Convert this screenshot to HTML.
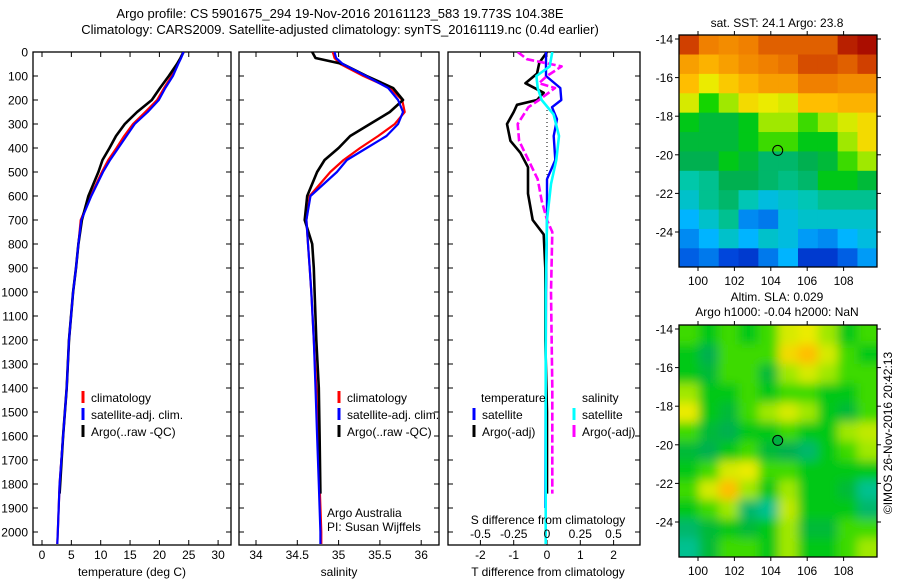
<!DOCTYPE html>
<html><head><meta charset="utf-8"><style>
html,body{margin:0;padding:0;background:#fff;}
svg{display:block;font-family:"Liberation Sans",sans-serif;}
</style></head><body>
<svg id="fig" width="900" height="580" viewBox="0 0 900 580" xmlns="http://www.w3.org/2000/svg">
<defs>
<clipPath id="c1"><rect x="33" y="52" width="198" height="493"/></clipPath>
<clipPath id="c2"><rect x="239" y="52" width="200" height="493"/></clipPath>
<clipPath id="c3"><rect x="448" y="52" width="192" height="493"/></clipPath>
<clipPath id="cm1"><rect x="679" y="35" width="198" height="232"/></clipPath>
<clipPath id="cm2"><rect x="679" y="325" width="198" height="232"/></clipPath>
<filter id="blur" x="-5%" y="-5%" width="110%" height="110%"><feGaussianBlur stdDeviation="5"/></filter>
</defs>
<text x="340" y="18" font-size="13" text-anchor="middle">Argo profile: CS 5901675_294 19-Nov-2016 20161123_583 19.773S 104.38E</text>
<text x="340" y="34" font-size="13" text-anchor="middle">Climatology: CARS2009. Satellite-adjusted climatology: synTS_20161119.nc (0.4d earlier)</text>
<g id="root"></g>
</svg>
<script>
// ---- profile data ----
const depths = [0,25,50,100,150,200,250,300,350,400,450,500,600,700,800,900,1000,1200,1400,1600,1800,2000,2050];
const climT = [24.1,23.6,23.0,22.1,20.8,19.6,17.6,15.5,14.0,12.7,11.3,10.2,8.3,6.6,6.2,5.8,5.3,4.6,4.2,3.6,3.0,2.7,2.6];
const satT  = [24.1,23.7,23.2,22.3,21.0,19.9,18.0,15.8,14.4,13.0,11.6,10.4,8.4,6.7,6.2,5.8,5.3,4.6,4.2,3.6,3.0,2.7,2.6];
const climS = [34.93,34.95,35.02,35.30,35.62,35.77,35.80,35.68,35.48,35.26,35.06,34.90,34.65,34.61,34.63,34.65,34.67,34.70,34.73,34.75,34.77,34.79,34.79];
const satS  = [34.95,34.97,35.05,35.33,35.60,35.72,35.78,35.72,35.58,35.34,35.10,34.98,34.66,34.61,34.63,34.65,34.67,34.70,34.72,34.74,34.76,34.78,34.78];
const argoDepths = [0,25,50,100,150,200,250,300,350,400,450,500,600,700,800,900,1000,1200,1400,1600,1840];
const argoT = [24.1,23.6,23.0,21.6,20.1,18.7,16.2,14.1,12.6,11.5,10.3,9.6,7.9,6.8,6.2,5.8,5.3,4.6,4.2,3.6,3.0];
const argoS = [34.68,34.72,35.05,35.34,35.66,35.78,35.62,35.38,35.14,35.00,34.83,34.74,34.62,34.59,34.68,34.70,34.71,34.73,34.76,34.77,34.78];
// differences
const dArgoTDepths = [0,45,90,130,170,200,220,250,300,370,420,480,590,700,760,900,1200,1500,1840];
const dArgoT = [0,-0.23,-0.3,-0.65,-0.1,-0.3,-0.9,-1.0,-1.2,-1.1,-0.8,-0.57,-0.57,-0.43,-0.1,-0.05,-0.05,0,0];
const dSatTDepths = [0,50,100,150,200,230,280,350,450,530,700,1000,1900];
const dSatT = [-0.03,-0.03,-0.03,0.4,0.43,0.15,0.3,0.2,0.25,0,0,-0.03,-0.05];
const dArgoSDepths = [0,30,60,100,130,150,200,230,300,370,450,530,620,700,750,1000,1400,1840];
const dArgoS = [-0.22,-0.15,0.11,0,-0.06,0.06,-0.06,-0.14,-0.22,-0.21,-0.14,-0.07,-0.04,0,0.04,0.03,0.04,0.04];
const dSatSDepths = [0,60,100,150,200,260,350,450,550,700,1000,1500,2050];
const dSatS = [0.04,0.02,-0.08,-0.07,-0.04,0.05,0.09,0.07,0.03,0,-0.01,-0.01,-0.01];
// tick labels
const depthTicks = [0,100,200,300,400,500,600,700,800,900,1000,1100,1200,1300,1400,1500,1600,1700,1800,1900,2000];
const tempTicks = [0,5,10,15,20,25,30];
const salTicks = [34,34.5,35,35.5,36];
const dTTicks = [-2,-1,0,1,2];
const dSTicks = [-0.5,-0.25,0,0.25,0.5];
const lonTicks = [100,102,104,106,108];
const latTicks = [-14,-16,-18,-20,-22,-24];
// maps (colour index 0..1), rows north->south, cols west->east
const sstGrid = [
[0.9,0.8,0.78,0.8,0.85,0.85,0.85,0.85,0.95,0.98],
[0.75,0.72,0.75,0.78,0.8,0.82,0.88,0.88,0.85,0.9],
[0.7,0.62,0.68,0.72,0.75,0.75,0.8,0.8,0.78,0.78],
[0.6,0.48,0.55,0.65,0.62,0.6,0.7,0.7,0.72,0.72],
[0.45,0.42,0.42,0.45,0.55,0.55,0.5,0.55,0.6,0.65],
[0.42,0.42,0.42,0.45,0.5,0.5,0.45,0.45,0.55,0.65],
[0.4,0.4,0.45,0.42,0.38,0.38,0.4,0.42,0.5,0.55],
[0.33,0.35,0.4,0.4,0.38,0.36,0.38,0.45,0.45,0.42],
[0.3,0.35,0.38,0.32,0.28,0.3,0.32,0.35,0.35,0.35],
[0.25,0.3,0.35,0.2,0.18,0.28,0.3,0.3,0.3,0.3],
[0.2,0.25,0.3,0.25,0.3,0.28,0.22,0.2,0.25,0.28],
[0.15,0.18,0.12,0.1,0.18,0.25,0.1,0.1,0.15,0.22]];
const slaGrid = [
[0.5,0.45,0.5,0.45,0.5,0.6,0.62,0.55,0.45,0.5],
[0.45,0.4,0.5,0.5,0.5,0.65,0.7,0.6,0.5,0.45],
[0.45,0.42,0.5,0.5,0.42,0.55,0.6,0.55,0.5,0.5],
[0.55,0.45,0.45,0.5,0.45,0.5,0.5,0.45,0.45,0.5],
[0.62,0.45,0.42,0.5,0.55,0.6,0.55,0.45,0.42,0.5],
[0.5,0.42,0.4,0.45,0.45,0.5,0.45,0.45,0.55,0.58],
[0.42,0.4,0.45,0.5,0.42,0.4,0.38,0.45,0.5,0.55],
[0.45,0.5,0.6,0.62,0.5,0.5,0.45,0.45,0.45,0.45],
[0.5,0.6,0.7,0.55,0.45,0.55,0.45,0.45,0.42,0.35],
[0.45,0.5,0.55,0.38,0.35,0.58,0.45,0.45,0.45,0.38],
[0.38,0.42,0.45,0.42,0.45,0.55,0.42,0.42,0.5,0.5],
[0.35,0.42,0.5,0.5,0.45,0.55,0.45,0.45,0.5,0.55]];
const argoLon = 104.38, argoLat = -19.773;

const NS='http://www.w3.org/2000/svg';
const root=document.getElementById('root');
function el(tag,attrs,parent){const e=document.createElementNS(NS,tag);for(const k in attrs)e.setAttribute(k,attrs[k]);(parent||root).appendChild(e);return e;}
function txt(s,x,y,attrs,parent){const t=el('text',Object.assign({x:x,y:y,'font-size':12},attrs||{}),parent);t.textContent=s;return t;}

const yD=d=>52+d*0.24;
const xT=t=>42+t*5.87;
const xS=s=>256+(s-34)*82.6;
const xdT=v=>547+v*33.3;
const xdS=v=>547+v*133;
const xLon=l=>698+(l-100)*18.2;
const yLat1=l=>39+(-14-l)*19.3;
const yLat2=l=>329+(-14-l)*19.3;

function panel(name,x0,x1,xs,xTicks,xLabels){
  const g=el('g',{});
  
  
  el('rect',{x:x0,y:52,width:x1-x0,height:493,fill:'none',stroke:'#000','stroke-width':1.3},g);
  depthTicks.forEach(d=>{const y=yD(d);
    el('line',{x1:x0,x2:x0+5,y1:y,y2:y,stroke:'#000'},g);
    el('line',{x1:x1-5,x2:x1,y1:y,y2:y,stroke:'#000'},g);});
  xTicks.forEach(v=>{const x=xs(v);
    el('line',{x1:x,x2:x,y1:545,y2:540,stroke:'#000'},g);
    el('line',{x1:x,x2:x,y1:52,y2:57,stroke:'#000'},g);
    if(xLabels){const t=txt(String(v),x,559,{'text-anchor':'middle'},g);
      
      }
  });
  return g;
}
function line(name,ds,vs,xs,color,w,clip,dash){
  const pts=ds.map((d,i)=>xs(vs[i]).toFixed(1)+','+yD(d).toFixed(1)).join(' ');
  const p=el('polyline',{points:pts,fill:'none',stroke:color,'stroke-width':w,'clip-path':'url(#'+clip+')','stroke-linejoin':'round'});
  if(dash)p.setAttribute('stroke-dasharray',dash);
  
  
}
function legendEntry(name,x,y,color,label,dash){
  const g=el('g',{});
  
  
  el('line',{x1:x,x2:x,y1:y-11,y2:y+1,stroke:color,'stroke-width':3,'stroke-dasharray':dash||'none'},g);
  txt(label,x+8,y,{},g);
}

// Panel 1 temperature
panel('temperature-panel',33,231,xT,tempTicks,true);
depthTicks.forEach(d=>{const t=txt(String(d),28,yD(d)+4.5,{'text-anchor':'end'});
  
  });
line('temp-climatology-line',depths,climT,xT,'#f00',2.2,'c1');
line('temp-argo-line',argoDepths,argoT,xT,'#000',2.6,'c1');
line('temp-satellite-line',depths,satT,xT,'#00f',2.2,'c1');
let t=txt('temperature (deg C)',132,576,{'text-anchor':'middle'});

legendEntry('legend-climatology',83,402,'#f00','climatology');
legendEntry('legend-satellite-adj',83,419,'#00f','satellite-adj. clim.');
legendEntry('legend-argo',83,436,'#000','Argo(..raw -QC)');

// Panel 2 salinity
panel('salinity-panel',239,439,xS,salTicks,true);
line('sal-climatology-line',depths,climS,xS,'#f00',2.2,'c2');
line('sal-argo-line',argoDepths,argoS,xS,'#000',2.6,'c2');
line('sal-satellite-line',depths,satS,xS,'#00f',2.2,'c2');
t=txt('salinity',339,576,{'text-anchor':'middle'});

legendEntry('legend-climatology-2',339,402,'#f00','climatology');
legendEntry('legend-satellite-adj-2',339,419,'#00f','satellite-adj. clim.');
legendEntry('legend-argo-2',339,436,'#000','Argo(..raw -QC)');
t=txt('Argo Australia',327,517,{});
t=txt('PI: Susan Wijffels',327,531,{});

// Panel 3 differences
panel('difference-panel',448,640,xdT,dTTicks,true);
el('line',{x1:547,x2:547,y1:110,y2:232,stroke:'#000','stroke-dasharray':'1,3'});
line('diff-argo-t-line',dArgoTDepths,dArgoT,xdT,'#000',2.6,'c3');
line('diff-sat-t-line',dSatTDepths,dSatT,xdT,'#00f',2.4,'c3');
line('diff-argo-s-line',dArgoSDepths,dArgoS,xdS,'#f0f',2.6,'c3','8,3');
line('diff-sat-s-line',dSatSDepths,dSatS,xdS,'#0ff',2.6,'c3');
dSTicks.forEach(v=>{const t=txt(String(v),xdS(v),538,{'text-anchor':'middle'});
  });
t=txt('S difference from climatology',548,524,{'text-anchor':'middle'});

t=txt('T difference from climatology',548,576,{'text-anchor':'middle'});

t=txt('temperature',481,402,{});
t=txt('salinity',582,402,{});
legendEntry('legend-t-satellite',474,419,'#00f','satellite');
legendEntry('legend-t-argo',474,436,'#000','Argo(-adj)');
legendEntry('legend-s-satellite',574,419,'#0ff','satellite');
legendEntry('legend-s-argo',574,436,'#f0f','Argo(-adj)');

// colormap
const stops=[[0,[0,0,140]],[0.12,[0,70,220]],[0.25,[0,180,255]],[0.33,[0,200,170]],[0.4,[0,176,80]],[0.47,[0,210,0]],[0.55,[160,232,0]],[0.62,[235,235,0]],[0.7,[255,190,0]],[0.8,[240,128,0]],[0.9,[208,64,0]],[1,[160,0,0]]];
function cmap(v){for(let i=1;i<stops.length;i++){if(v<=stops[i][0]){const a=stops[i-1],b=stops[i],f=(v-a[0])/(b[0]-a[0]);
  const c=a[1].map((x,k)=>Math.round(x+(b[1][k]-x)*f));return 'rgb('+c.join(',')+')';}}return 'rgb(160,0,0)';}

function map(name,grid,yLat,top,clip,blur,title1,title2,circleFill){
  const g=el('g',{});
  
  
  const lon0=98.96,lon1=109.85,lat0=-13.8,lat1=-25.85;
  const rows=grid.length,cols=grid[0].length;
  const cg=el('g',{'clip-path':'url(#'+clip+')'},g);
  const ig=el('g',blur?{filter:'url(#blur)'}:{},cg);
  grid.forEach((row,r)=>row.forEach((v,c)=>{
    const la=lat0+(lat1-lat0)*r/rows, lb=lat0+(lat1-lat0)*(r+1)/rows;
    const loa=lon0+(lon1-lon0)*c/cols, lob=lon0+(lon1-lon0)*(c+1)/cols;
    const pad=blur?12:0;
    const x=xLon(loa)-(c===0?pad:0), x2=xLon(lob)+(c===cols-1?pad:0);
    const y=yLat(la)-(r===0?pad:0), y2=yLat(lb)+(r===rows-1?pad:0);
    const cell=el('rect',{x:x,y:y,width:x2-x+0.6,height:y2-y+0.6,fill:cmap(v)},ig);
    
    
  }));
  el('rect',{x:679,y:top,width:198,height:232,fill:'none',stroke:'#000','stroke-width':1.3},g);
  lonTicks.forEach(l=>{const x=xLon(l);
    el('line',{x1:x,x2:x,y1:top,y2:top-4,stroke:'#000'},g);
    el('line',{x1:x,x2:x,y1:top+232,y2:top+236,stroke:'#000'},g);
    const tt=txt(String(l),x,top+250,{'text-anchor':'middle'},g);
    });
  latTicks.forEach(l=>{const y=yLat(l);
    el('line',{x1:679,x2:675,y1:y,y2:y,stroke:'#000'},g);
    el('line',{x1:877,x2:881,y1:y,y2:y,stroke:'#000'},g);
    const tt=txt(String(l),673,y+4.5,{'text-anchor':'end'},g);
    });
  const c=el('circle',{cx:xLon(argoLon),cy:yLat(argoLat),r:5,fill:circleFill,stroke:'#000','stroke-width':1},g);
  
  let tt=txt(title1,777,top-(title2?24:8),{'text-anchor':'middle'},g);
  
  if(title2){tt=txt(title2,777,top-9,{'text-anchor':'middle'},g);
    }
}
map('sst-map',sstGrid,yLat1,35,'cm1',false,'sat. SST: 24.1 Argo: 23.8',null,'none');
map('sla-map',slaGrid,yLat2,325,'cm2',true,'Altim. SLA: 0.029','Argo h1000: -0.04 h2000: NaN','#00b040');
t=txt('\u00A9IMOS 26-Nov-2016 20:42:13',0,0,{'text-anchor':'middle',transform:'translate(892,433) rotate(-90)'});

</script>
</body></html>
